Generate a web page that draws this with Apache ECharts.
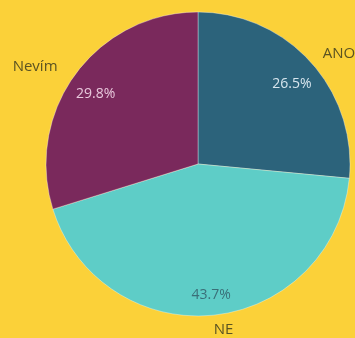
<!DOCTYPE html>
<html>
    <head>
        <meta charset="utf-8">
        <script src="https://cdn.jsdelivr.net/npm/echarts@6/dist/echarts.min.js"></script>
    </head>
    <body>
        <style>
            html, body, #main {
                width: 100%;
                height: 100%;
                margin: 0;
                background: #fbd139;
            }
        </style>
        <div id="main"></div>
        <script>
            var names = ['ANO', 'NE', 'Nevím'];
            var values = [26.5, 43.7, 29.8];
            var colors = ['#2c637b', '#5ecdc7', '#7a295c'];
            var pctColors = ['#d8e6ee', '#3a6f78', '#e8c8dc'];

            var chart = echarts.init(document.getElementById('main'));

            // small nudges so the name labels sit where the original has them
            var nameOffsets = [[0, -1], [-6, 5], [-5, -1]];

            var pieData = names.map(function (n, i) {
                return {
                    name: n, value: values[i],
                    itemStyle: { color: colors[i] },
                    label: { offset: nameOffsets[i] }
                };
            });
            var pctData = names.map(function (n, i) {
                return {
                    name: n, value: values[i],
                    label: { color: pctColors[i] }
                };
            });

            chart.setOption({
                backgroundColor: '#fbd139',
                animation: false,
                series: [
                    {
                        type: 'pie',
                        center: [198, 164],
                        radius: [0, 152],
                        startAngle: 90,
                        clockwise: true,
                        silent: true,
                        itemStyle: {
                            borderColor: 'rgba(255,255,255,0.35)',
                            borderWidth: 1
                        },
                        label: {
                            show: true,
                            position: 'outside',
                            formatter: '{b}',
                            fontFamily: 'Open Sans',
                            fontSize: 15,
                            color: '#5b5322',
                            overflow: 'none'
                        },
                        labelLine: { show: false, length: 10, length2: 0 },
                        data: pieData
                    },
                    {
                        // invisible ring only used to place percent labels
                        type: 'pie',
                        center: [198, 164],
                        radius: [96, 152],
                        startAngle: 90,
                        clockwise: true,
                        silent: true,
                        itemStyle: { color: 'transparent' },
                        label: {
                            show: true,
                            position: 'inside',
                            formatter: function (p) { return p.value.toFixed(1) + '%'; },
                            fontFamily: 'Open Sans',
                            fontSize: 14,
                            offset: [0, 5]
                        },
                        labelLine: { show: false },
                        data: pctData
                    }
                ]
            });
        </script>
    </body>
</html>
